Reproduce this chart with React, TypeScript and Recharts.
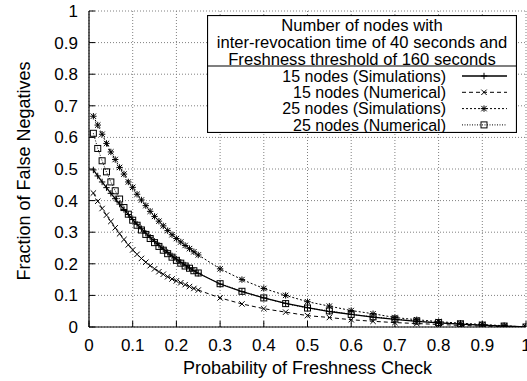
import React from 'react';
import { LineChart, Line, XAxis, YAxis, CartesianGrid, Legend, Label } from 'recharts';

// Probability of a freshness check (x values of every series)
const probability = [
  0.01, 0.02, 0.03, 0.04, 0.05, 0.06, 0.07, 0.08, 0.09, 0.1,
  0.11, 0.12, 0.13, 0.14, 0.15, 0.16, 0.17, 0.18, 0.19, 0.2,
  0.21, 0.22, 0.23, 0.24, 0.25,
  0.3, 0.35, 0.4, 0.45, 0.5, 0.55, 0.6, 0.65, 0.7, 0.75, 0.8, 0.85, 0.9, 0.95, 1.0,
];

// Fraction of false negatives, 15 nodes, simulations
const sim15 = [
  0.497, 0.478, 0.459, 0.441, 0.423, 0.406, 0.389, 0.372, 0.356, 0.340,
  0.325, 0.311, 0.297, 0.284, 0.271, 0.259, 0.247, 0.236, 0.225, 0.215,
  0.205, 0.196, 0.187, 0.178, 0.170,
  0.136, 0.112, 0.092, 0.075, 0.061, 0.049, 0.040, 0.031, 0.024, 0.018, 0.013, 0.009, 0.006, 0.003, 0.0,
];

// Fraction of false negatives, 15 nodes, numerical
const num15 = [
  0.424, 0.398, 0.375, 0.354, 0.334, 0.314, 0.295, 0.277, 0.260, 0.244,
  0.230, 0.217, 0.205, 0.194, 0.184, 0.175, 0.167, 0.159, 0.152, 0.146,
  0.140, 0.134, 0.128, 0.122, 0.117,
  0.092, 0.073, 0.058, 0.047, 0.036, 0.030, 0.023, 0.018, 0.014, 0.011, 0.008, 0.005, 0.003, 0.001, 0.0,
];

// Fraction of false negatives, 25 nodes, simulations
const sim25 = [
  0.667, 0.639, 0.610, 0.581, 0.554, 0.530, 0.505, 0.484, 0.459, 0.442,
  0.420, 0.402, 0.384, 0.366, 0.350, 0.335, 0.320, 0.305, 0.292, 0.280,
  0.269, 0.258, 0.248, 0.238, 0.228,
  0.184, 0.150, 0.122, 0.100, 0.080, 0.066, 0.052, 0.042, 0.030, 0.023, 0.017, 0.012, 0.008, 0.004, 0.0,
];

// Fraction of false negatives, 25 nodes, numerical
const num25 = [
  0.613, 0.565, 0.526, 0.491, 0.459, 0.431, 0.405, 0.378, 0.357, 0.338,
  0.322, 0.307, 0.293, 0.280, 0.267, 0.255, 0.243, 0.232, 0.221, 0.211,
  0.202, 0.193, 0.186, 0.178, 0.171,
  0.137, 0.113, 0.092, 0.074, 0.060, 0.051, 0.040, 0.032, 0.025, 0.019, 0.014, 0.010, 0.006, 0.003, 0.0,
];

const tickValues = [0, 0.1, 0.2, 0.3, 0.4, 0.5, 0.6, 0.7, 0.8, 0.9, 1];
const tickLabels = ['0', '0.1', '0.2', '0.3', '0.4', '0.5', '0.6', '0.7', '0.8', '0.9', '1'];

const legendTitle = [
  'Number of nodes with',
  'inter-revocation time of 40 seconds and',
  'Freshness threshold of 160 seconds',
];

const xTitle = 'Probability of Freshness Check';
const yTitle = 'Fraction of False Negatives';

type MarkerKind = 'plus' | 'cross' | 'star' | 'box';

interface SeriesDef {
  key: string;
  name: string;
  marker: MarkerKind;
  dash?: string;
  width: number;
}

const series: SeriesDef[] = [
  { key: 'sim15', name: '15 nodes (Simulations)', marker: 'plus', width: 1.3 },
  { key: 'num15', name: '15 nodes (Numerical)', marker: 'cross', dash: '4 3', width: 1 },
  { key: 'sim25', name: '25 nodes (Simulations)', marker: 'star', dash: '2 2', width: 1 },
  { key: 'num25', name: '25 nodes (Numerical)', marker: 'box', dash: '1 1.5', width: 1 },
];

const rows = probability.map((p, i) => ({
  p,
  sim15: sim15[i],
  num15: num15[i],
  sim25: sim25[i],
  num25: num25[i],
}));

const FONT = '"Liberation Sans", Arial, Helvetica, sans-serif';
const INK = '#000';
const TICK = 6;

const labelFor = (v: number) => {
  const i = tickValues.findIndex((t) => Math.abs(t - v) < 1e-9);
  return i >= 0 ? tickLabels[i] : String(v);
};

function Marker({ kind, cx, cy }: { kind: MarkerKind; cx: number; cy: number }) {
  const s = 3.2;
  const d = 2.7;
  const stroke = { stroke: INK, strokeWidth: 1, fill: 'none' };
  if (kind === 'plus') {
    return (
      <g>
        <line x1={cx - s} y1={cy} x2={cx + s} y2={cy} {...stroke} />
        <line x1={cx} y1={cy - s} x2={cx} y2={cy + s} {...stroke} />
      </g>
    );
  }
  if (kind === 'cross') {
    return (
      <g>
        <line x1={cx - d} y1={cy - d} x2={cx + d} y2={cy + d} {...stroke} />
        <line x1={cx - d} y1={cy + d} x2={cx + d} y2={cy - d} {...stroke} />
      </g>
    );
  }
  if (kind === 'star') {
    return (
      <g>
        <line x1={cx - s} y1={cy} x2={cx + s} y2={cy} {...stroke} />
        <line x1={cx} y1={cy - s} x2={cx} y2={cy + s} {...stroke} />
        <line x1={cx - d} y1={cy - d} x2={cx + d} y2={cy + d} {...stroke} />
        <line x1={cx - d} y1={cy + d} x2={cx + d} y2={cy - d} {...stroke} />
      </g>
    );
  }
  return <rect x={cx - 3} y={cy - 3} width={6} height={6} {...stroke} />;
}

const markerDot = (kind: MarkerKind) => (props: any) => {
  const { cx, cy, index } = props;
  if (cx == null || cy == null) return <g key={`m-${index}`} />;
  return (
    <g key={`m-${kind}-${index}`}>
      <Marker kind={kind} cx={cx} cy={cy} />
    </g>
  );
};

const BottomTick = (props: any) => {
  const { x, y, payload } = props;
  return (
    <g>
      <line x1={x} y1={y} x2={x} y2={y - TICK} stroke={INK} />
      <text x={x} y={y + 18} dy="0.355em" textAnchor="middle" fontFamily={FONT} fontSize={17} fill={INK}>
        {labelFor(payload.value)}
      </text>
    </g>
  );
};

const TopTick = (props: any) => {
  const { x, y } = props;
  return <line x1={x} y1={y} x2={x} y2={y + TICK} stroke={INK} />;
};

const LeftTick = (props: any) => {
  const { x, y, payload } = props;
  return (
    <g>
      <line x1={x} y1={y} x2={x + TICK} y2={y} stroke={INK} />
      <text x={x - 11} y={y} dy="0.355em" textAnchor="end" fontFamily={FONT} fontSize={17} fill={INK}>
        {labelFor(payload.value)}
      </text>
    </g>
  );
};

const RightTick = (props: any) => {
  const { x, y } = props;
  return <line x1={x} y1={y} x2={x - TICK} y2={y} stroke={INK} />;
};

const BOX_W = 310;
const BOX_H = 118;

const LegendBox = () => (
  <svg width={BOX_W} height={BOX_H} style={{ display: 'block' }}>
    <rect x={0.5} y={0.5} width={BOX_W - 1} height={BOX_H - 1} fill="#fff" stroke={INK} strokeWidth={1.2} />
    {legendTitle.map((t, i) => (
      <text
        key={t}
        x={BOX_W / 2}
        y={10 + i * 17}
        dy="0.355em"
        textAnchor="middle"
        fontFamily={FONT}
        fontSize={16.6}
        fill={INK}
      >
        {t}
      </text>
    ))}
    <line x1={0} y1={51} x2={BOX_W} y2={51} stroke={INK} strokeWidth={1.2} />
    {series.map((s, i) => {
      const cy = 61 + i * 16.3;
      return (
        <g key={s.key}>
          <text x={239} y={cy} dy="0.355em" textAnchor="end" fontFamily={FONT} fontSize={16} fill={INK}>
            {s.name}
          </text>
          <line x1={255} y1={cy} x2={300} y2={cy} stroke={INK} strokeWidth={s.width} strokeDasharray={s.dash} />
          <Marker kind={s.marker} cx={277} cy={cy} />
        </g>
      );
    })}
  </svg>
);

export default function App() {
  return (
    <div style={{ position: 'absolute', left: 0, top: 0, width: 527, height: 381, background: '#fff' }}>
      <LineChart width={527} height={381} data={rows} margin={{ top: 11, right: 1, bottom: 0, left: 0 }}>
        <CartesianGrid stroke="#808080" strokeDasharray="1 2" />
        <XAxis
          dataKey="p"
          type="number"
          domain={[0, 1]}
          ticks={tickValues}
          interval={0}
          allowDataOverflow
          height={54}
          tickSize={0}
          tickMargin={0}
          tickLine={false}
          axisLine={{ stroke: INK, strokeWidth: 1.2 }}
          tick={<BottomTick />}
        >
          <Label
            content={(p: any) => {
              const vb = p.viewBox;
              return (
                <text
                  x={vb.x + vb.width / 2}
                  y={vb.y + 41}
                  dy="0.355em"
                  textAnchor="middle"
                  fontFamily={FONT}
                  fontSize={18}
                  fill={INK}
                >
                  {xTitle}
                </text>
              );
            }}
          />
        </XAxis>
        <XAxis
          xAxisId="top"
          orientation="top"
          dataKey="p"
          type="number"
          domain={[0, 1]}
          ticks={tickValues}
          interval={0}
          allowDataOverflow
          height={0}
          tickSize={0}
          tickMargin={0}
          tickLine={false}
          axisLine={{ stroke: INK, strokeWidth: 1.2 }}
          tick={<TopTick />}
        />
        <YAxis
          type="number"
          domain={[0, 1]}
          ticks={tickValues}
          interval={0}
          allowDataOverflow
          width={89}
          tickSize={0}
          tickMargin={0}
          tickLine={false}
          axisLine={{ stroke: INK, strokeWidth: 1.2 }}
          tick={<LeftTick />}
        >
          <Label
            content={(p: any) => {
              const vb = p.viewBox;
              const cx = 24;
              const cy = vb.y + vb.height / 2 + 2;
              return (
                <text
                  x={cx}
                  y={cy}
                  dy="0.355em"
                  textAnchor="middle"
                  transform={`rotate(-90 ${cx} ${cy})`}
                  fontFamily={FONT}
                  fontSize={18}
                  fill={INK}
                >
                  {yTitle}
                </text>
              );
            }}
          />
        </YAxis>
        <YAxis
          yAxisId="right"
          orientation="right"
          type="number"
          domain={[0, 1]}
          ticks={tickValues}
          interval={0}
          allowDataOverflow
          width={0}
          tickSize={0}
          tickMargin={0}
          tickLine={false}
          axisLine={{ stroke: INK, strokeWidth: 1.2 }}
          tick={<RightTick />}
        />
        {series.map((s) => (
          <Line
            key={s.key}
            dataKey={s.key}
            name={s.name}
            type="linear"
            stroke={INK}
            strokeWidth={s.width}
            strokeDasharray={s.dash}
            dot={markerDot(s.marker)}
            activeDot={false}
            isAnimationActive={false}
          />
        ))}
        <Legend
          layout="vertical"
          align="center"
          verticalAlign="middle"
          wrapperStyle={{ top: 15, left: 207, width: BOX_W, height: BOX_H, margin: 0, padding: 0 }}
          content={() => <LegendBox />}
        />
      </LineChart>
    </div>
  );
}
